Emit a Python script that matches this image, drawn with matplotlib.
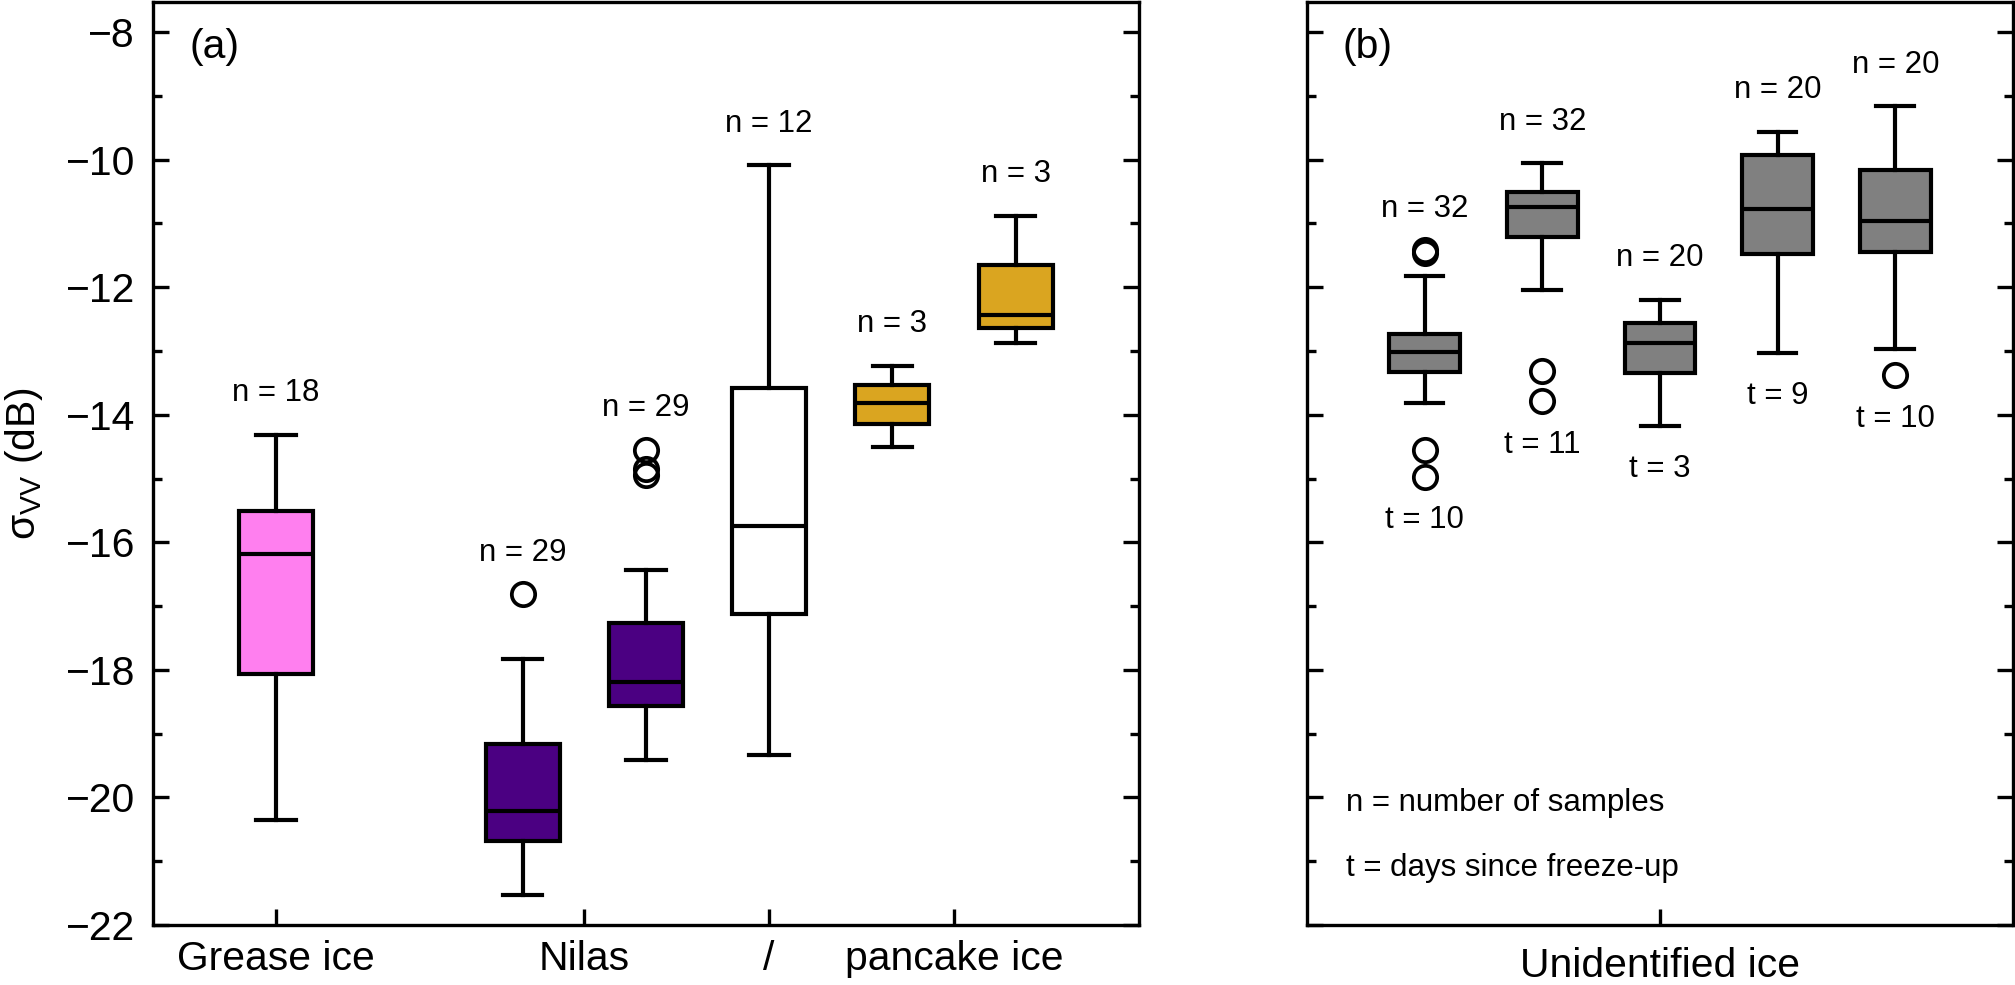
"""
Box plots of VV backscatter by ice type: (a) identified ice types, (b) unidentified ice.
"""

import matplotlib.pyplot as plt
from matplotlib.ticker import MultipleLocator

plt.rcParams['font.family'] = ['Liberation Sans', 'DejaVu Sans']
plt.rcParams['mathtext.fontset'] = 'custom'
plt.rcParams['mathtext.rm'] = 'Liberation Sans'
plt.rcParams['mathtext.it'] = 'Liberation Sans:italic'

# panel (a): identified ice types
a_tick_labels = ["Grease ice", "Nilas", "/", "pancake ice"]
a_whislo = [-20.36, -21.53, -19.42, -19.33, -14.50, -12.87]
a_q1 = [-18.06, -20.69, -18.56, -17.13, -14.14, -12.64]
a_med = [-16.19, -20.21, -18.19, -15.75, -13.81, -12.44]
a_q3 = [-15.51, -19.16, -17.27, -13.58, -13.53, -11.66]
a_whishi = [-14.31, -17.83, -16.43, -10.09, -13.23, -10.88]
a_fliers = [[], [-16.81], [-14.55, -14.85, -14.94], [], [], []]
a_n = [18, 29, 29, 12, 3, 3]

# panel (b): unidentified ice
b_tick_labels = ["Unidentified ice"]
b_whislo = [-13.82, -12.05, -14.17, -13.03, -12.97]
b_q1 = [-13.33, -11.21, -13.35, -11.48, -11.45]
b_med = [-13.01, -10.75, -12.88, -10.77, -10.96]
b_q3 = [-12.74, -10.50, -12.56, -9.92, -10.16]
b_whishi = [-11.82, -10.06, -12.20, -9.56, -9.16]
b_fliers = [[-11.42, -11.46, -14.55, -14.97], [-13.32, -13.79], [], [], [-13.38]]
b_n = [32, 32, 20, 20, 20]
b_t = [10, 11, 3, 9, 10]

# layout / style
a_positions = [1, 3, 4, 5, 6, 7]
a_tick_pos = [1, 3.5, 5, 6.5]
a_colors = ["#FF7FEF", "#4B0082", "#4B0082", "white", "#DAA520", "#DAA520"]
b_positions = [1, 2, 3, 4, 5]
b_tick_pos = [3]
b_color = "#808080"

LW = 1.0
TICK_FS = 9.8
NOTE_FS = 7.5
N_OFFSET = 0.65
T_OFFSET = 0.68


def make_stats(whislo, q1, med, q3, whishi, fliers):
    stats = []
    for lo, a, m, b, hi, fl in zip(whislo, q1, med, q3, whishi, fliers):
        stats.append({"whislo": lo, "q1": a, "med": m, "q3": b,
                      "whishi": hi, "fliers": fl})
    return stats


def draw_boxes(ax, stats, positions, colors):
    bp = ax.bxp(stats, positions=positions, widths=0.6, capwidths=0.32,
                patch_artist=True, showfliers=True,
                boxprops=dict(linewidth=LW, edgecolor="black"),
                medianprops=dict(linewidth=LW, color="black"),
                whiskerprops=dict(linewidth=LW, color="black"),
                capprops=dict(linewidth=LW, color="black"),
                flierprops=dict(marker="o", markerfacecolor="none",
                                markeredgecolor="black", markersize=5.6,
                                markeredgewidth=0.9))
    for patch, c in zip(bp["boxes"], colors):
        patch.set_facecolor(c)
    return bp


def style_axes(ax):
    for s in ax.spines.values():
        s.set_linewidth(0.8)
    ax.set_ylim(-22, -7.53)
    ax.yaxis.set_major_locator(MultipleLocator(2))
    ax.yaxis.set_minor_locator(MultipleLocator(1))
    ax.tick_params(axis="y", which="both", direction="in", left=True, right=True,
                   width=0.8)
    ax.tick_params(axis="y", which="major", length=3.8, pad=4.3)
    ax.tick_params(axis="y", which="minor", length=2.2)
    ax.tick_params(axis="x", which="both", direction="in", top=False,
                   length=3.8, width=0.8, labelsize=TICK_FS)
    ax.tick_params(axis="y", labelsize=TICK_FS)


fig = plt.figure(figsize=(2015 / 300, 985 / 300), dpi=300)
ax_a = fig.add_axes([0.0759, 0.0609, 0.4893, 0.937])
ax_b = fig.add_axes([0.6486, 0.0609, 0.3504, 0.937])

# panel (a)
stats_a = make_stats(a_whislo, a_q1, a_med, a_q3, a_whishi, a_fliers)
draw_boxes(ax_a, stats_a, a_positions, a_colors)
style_axes(ax_a)
ax_a.set_xlim(0, 8)
ax_a.set_xticks(a_tick_pos)
ax_a.set_xticklabels(a_tick_labels)
ax_a.set_ylabel("σ$_{\\mathrm{VV}}$ (dB)", fontsize=TICK_FS, labelpad=5)
for x, st, n in zip(a_positions, stats_a, a_n):
    top = max([st["whishi"]] + st["fliers"])
    ax_a.text(x, top + N_OFFSET, f"n = {n}", ha="center", va="center",
              fontsize=NOTE_FS)
ax_a.text(0.037, 0.951, "(a)", transform=ax_a.transAxes, ha="left",
          va="center", fontsize=TICK_FS)

# panel (b)
stats_b = make_stats(b_whislo, b_q1, b_med, b_q3, b_whishi, b_fliers)
draw_boxes(ax_b, stats_b, b_positions, [b_color] * len(b_positions))
style_axes(ax_b)
ax_b.set_xlim(0, 6)
ax_b.set_xticks(b_tick_pos)
ax_b.set_xticklabels(b_tick_labels)
ax_b.tick_params(axis="x", pad=5.2)
ax_b.tick_params(axis="y", labelleft=False)
for x, st, n, t in zip(b_positions, stats_b, b_n, b_t):
    top = max([st["whishi"]] + st["fliers"])
    bottom = min([st["whislo"]] + st["fliers"])
    ax_b.text(x, top + N_OFFSET, f"n = {n}", ha="center", va="center",
              fontsize=NOTE_FS)
    ax_b.text(x, bottom - T_OFFSET, f"t = {t}", ha="center", va="center",
              fontsize=NOTE_FS)
ax_b.text(0.051, 0.951, "(b)", transform=ax_b.transAxes, ha="left",
          va="center", fontsize=TICK_FS)
ax_b.text(0.055, 0.132, "n = number of samples", transform=ax_b.transAxes,
          ha="left", va="center", fontsize=NOTE_FS)
ax_b.text(0.055, 0.062, "t = days since freeze-up", transform=ax_b.transAxes,
          ha="left", va="center", fontsize=NOTE_FS)

fig.savefig("out.png", dpi=300)
